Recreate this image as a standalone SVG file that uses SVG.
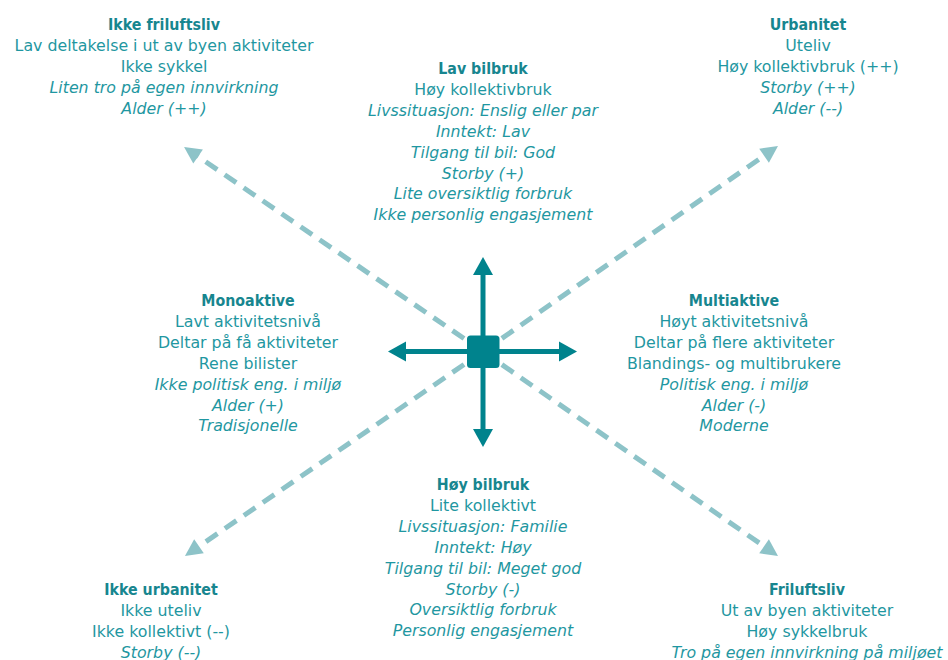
<svg xmlns="http://www.w3.org/2000/svg" width="948" height="660" viewBox="0 0 948 660">
<style>
text{font-family:"DejaVu Sans","Liberation Sans",sans-serif;font-size:15.8px;fill:#1f97a1;text-anchor:middle}
.t{font-family:"DejaVu Sans Condensed","DejaVu Sans","Liberation Sans",sans-serif;font-weight:bold;fill:#17868f}
.i{font-style:italic}
.dash{stroke:#8dc3c8;stroke-width:5;stroke-dasharray:14 9;fill:none}
.axis{stroke:#00838d;stroke-width:5;fill:none}
</style>
<defs>
<marker id="ah" markerUnits="userSpaceOnUse" markerWidth="18" markerHeight="20" refX="8" refY="10" orient="auto" overflow="visible">
<path d="M0,0 L18,10 L0,20 Z" fill="#00838d"/>
</marker>
<marker id="dh" markerUnits="userSpaceOnUse" markerWidth="17" markerHeight="17" refX="7" refY="8.5" orient="auto" overflow="visible">
<path d="M0,0 L17,8.5 L0,17 Z" fill="#8dc3c8"/>
</marker>
</defs>
<g id="connectors">
<line class="dash" x1="483" y1="351.5" x2="192.3" y2="152.6" marker-end="url(#dh)"/>
<line class="dash" x1="483" y1="351.5" x2="769.8" y2="151.7" marker-end="url(#dh)"/>
<line class="dash" x1="483" y1="351.5" x2="193.2" y2="550.3" marker-end="url(#dh)"/>
<line class="dash" x1="483" y1="351.5" x2="769.8" y2="550.3" marker-end="url(#dh)"/>
<line class="axis" x1="483" y1="351.5" x2="483" y2="267" marker-end="url(#ah)"/>
<line class="axis" x1="483" y1="351.5" x2="483" y2="437" marker-end="url(#ah)"/>
<line class="axis" x1="483" y1="351.5" x2="398" y2="351.5" marker-end="url(#ah)"/>
<line class="axis" x1="483" y1="351.5" x2="567" y2="351.5" marker-end="url(#ah)"/>
</g>
<g id="center">
<rect x="467" y="335.5" width="32.5" height="32.5" rx="3.5" fill="#00838d"/>
</g>
<g id="ikke-friluftsliv">
<text class="t" x="164" y="30">Ikke friluftsliv</text>
<text x="164" y="50.9">Lav deltakelse i ut av byen aktiviteter</text>
<text x="164" y="71.8">Ikke sykkel</text>
<text class="i" x="164" y="92.7">Liten tro på egen innvirkning</text>
<text class="i" x="164" y="113.6">Alder (++)</text>
</g>
<g id="lav-bilbruk">
<text class="t" x="483" y="74">Lav bilbruk</text>
<text x="483" y="94.9">Høy kollektivbruk</text>
<text class="i" x="483" y="115.8">Livssituasjon: Enslig eller par</text>
<text class="i" x="483" y="136.7">Inntekt: Lav</text>
<text class="i" x="483" y="157.6">Tilgang til bil: God</text>
<text class="i" x="483" y="178.5">Storby (+)</text>
<text class="i" x="483" y="199.4">Lite oversiktlig forbruk</text>
<text class="i" x="483" y="220.3">Ikke personlig engasjement</text>
</g>
<g id="urbanitet">
<text class="t" x="808" y="30">Urbanitet</text>
<text x="808" y="50.9">Uteliv</text>
<text x="808" y="71.8">Høy kollektivbruk (++)</text>
<text class="i" x="808" y="92.7">Storby (++)</text>
<text class="i" x="808" y="113.6">Alder (--)</text>
</g>
<g id="monoaktive">
<text class="t" x="248" y="306">Monoaktive</text>
<text x="248" y="326.9">Lavt aktivitetsnivå</text>
<text x="248" y="347.8">Deltar på få aktiviteter</text>
<text x="248" y="368.7">Rene bilister</text>
<text class="i" x="248" y="389.6">Ikke politisk eng. i miljø</text>
<text class="i" x="248" y="410.5">Alder (+)</text>
<text class="i" x="248" y="431.4">Tradisjonelle</text>
</g>
<g id="multiaktive">
<text class="t" x="734" y="306">Multiaktive</text>
<text x="734" y="326.9">Høyt aktivitetsnivå</text>
<text x="734" y="347.8">Deltar på flere aktiviteter</text>
<text x="734" y="368.7">Blandings- og multibrukere</text>
<text class="i" x="734" y="389.6">Politisk eng. i miljø</text>
<text class="i" x="734" y="410.5">Alder (-)</text>
<text class="i" x="734" y="431.4">Moderne</text>
</g>
<g id="hoy-bilbruk">
<text class="t" x="483" y="490">Høy bilbruk</text>
<text x="483" y="510.9">Lite kollektivt</text>
<text class="i" x="483" y="531.8">Livssituasjon: Familie</text>
<text class="i" x="483" y="552.7">Inntekt: Høy</text>
<text class="i" x="483" y="573.6">Tilgang til bil: Meget god</text>
<text class="i" x="483" y="594.5">Storby (-)</text>
<text class="i" x="483" y="615.4">Oversiktlig forbruk</text>
<text class="i" x="483" y="636.3">Personlig engasjement</text>
</g>
<g id="ikke-urbanitet">
<text class="t" x="161" y="595">Ikke urbanitet</text>
<text x="161" y="615.9">Ikke uteliv</text>
<text x="161" y="636.8">Ikke kollektivt (--)</text>
<text class="i" x="161" y="657.7">Storby (--)</text>
</g>
<g id="friluftsliv">
<text class="t" x="807" y="595">Friluftsliv</text>
<text x="807" y="615.9">Ut av byen aktiviteter</text>
<text x="807" y="636.8">Høy sykkelbruk</text>
<text class="i" x="807" y="657.7">Tro på egen innvirkning på miljøet</text>
</g>
</svg>
